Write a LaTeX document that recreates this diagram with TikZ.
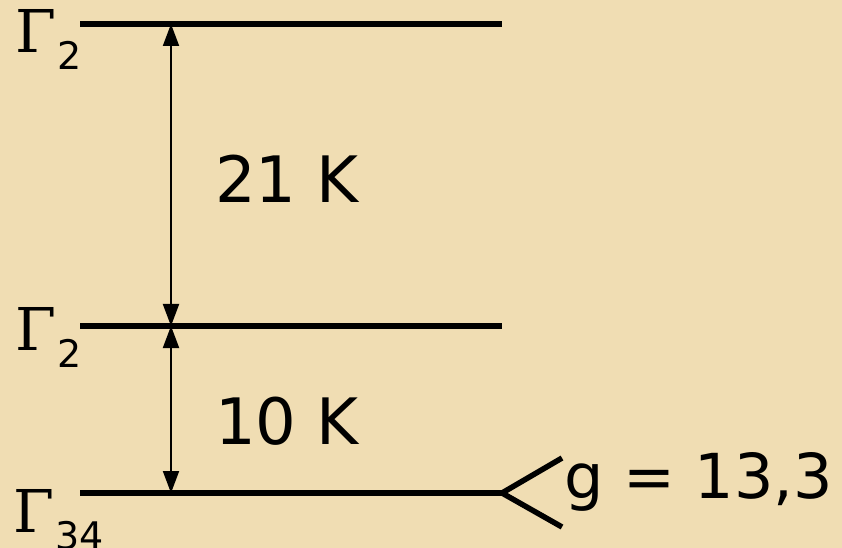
\documentclass[tikz,border=0pt]{standalone}
\usepackage{fontspec}
\setmainfont{DejaVu Sans}
\newfontfamily\gsf{DejaVu Serif}
\usetikzlibrary{arrows.meta}
\definecolor{parch}{HTML}{F0DDB3}
\newcommand{\glev}[1]{{\fontsize{59bp}{62bp}\gsf Γ}\kern1bp\raisebox{-17bp}{\fontsize{38bp}{40bp}\selectfont #1}}
\begin{document}
\begin{tikzpicture}[x=1bp,y=-1bp,
  level/.style={line width=5.5bp},
  gap/.style={{Triangle[length=22bp,width=16bp]}-{Triangle[length=22bp,width=16bp]}, line width=2bp},
  lbl/.style={font=\fontsize{64bp}{70bp}\selectfont, inner sep=0pt},
  glbl/.style={inner sep=0pt, anchor=base west}]
\fill[parch] (0,0) rectangle (842,548);
\useasboundingbox (0,0) rectangle (842,548);
% levels
\coordinate (t1) at (80,24);  \coordinate (t2) at (502,24);
\coordinate (m1) at (80,326); \coordinate (m2) at (502,326);
\coordinate (b1) at (80,493); \coordinate (b2) at (502,493);
\coordinate (f1) at (562,458); \coordinate (f2) at (562,527);
\draw[level] (t1) -- (t2);
\draw[level] (m1) -- (m2);
\draw[level] (b1) -- (b2);
\draw[level] (f1) -- (b2) -- (f2);
% gaps
\coordinate (at) at (171,24); \coordinate (am) at (171,326); \coordinate (ab) at (171,493);
\draw[gap] (at) -- (am);
\draw[gap] (am) -- (ab);
% labels
\node[lbl, anchor=base] (e1) at (287,203) {21 K};
\node[lbl, anchor=base] (e2) at (287,444) {10 K};
\node[lbl, anchor=base west, font=\fontsize{62bp}{68bp}\selectfont] (g) at (564,498) {g = 13,3};
\node[glbl] (g1) at (15,53) {\glev{2}};
\node[glbl] (g2) at (15,350) {\glev{2}};
\node[glbl] (g3) at (13,532) {\glev{34}};
\end{tikzpicture}
\end{document}
